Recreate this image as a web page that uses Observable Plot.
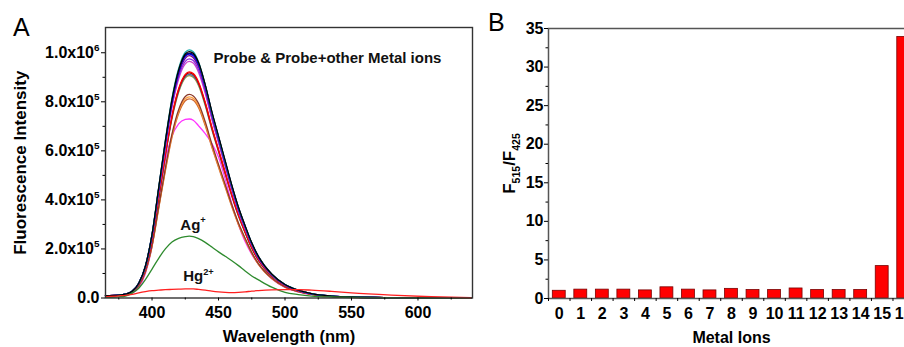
<!DOCTYPE html>
<html><head><meta charset="utf-8">
<script src="https://cdn.jsdelivr.net/npm/d3@7"></script>
<script src="https://cdn.jsdelivr.net/npm/@observablehq/plot@0.6"></script>
<style>
html,body{margin:0;padding:0;background:#fff;}
#wrap{position:relative;width:904px;height:347px;overflow:hidden;background:#fff;font-family:"Liberation Sans",Arial,sans-serif;}
.panel{position:absolute;top:0;}
.tag{position:absolute;font-size:25px;line-height:1;color:#000;font-family:"Liberation Sans",Arial,sans-serif;}
</style></head><body>
<div id="wrap">
  <div class="panel" id="pa" style="left:0;width:480px"></div>
  <div class="panel" id="pb" style="left:480px;width:444px"></div>
  <div class="tag" style="left:13px;top:15px">A</div>
  <div class="tag" style="left:488px;top:10px">B</div>
</div>
<script>
const FONT = '"Liberation Sans", Arial, sans-serif';

// ---- Panel A: fluorescence spectra (intensity in units of 1e5) ----
const wl = [365,375,380,385,390,395,400,405,410,415,420,425,428,431,435,440,445,450,455,460,465,470,475,480,490,500,510,520,535,550,580,610,640];

const sBlack   = [0.10,0.12,0.16,0.27,0.60,1.30,2.60,4.50,6.40,8.10,9.30,9.95,10.05,9.98,9.60,8.70,7.60,6.60,5.60,4.60,3.70,2.95,2.25,1.70,0.98,0.55,0.32,0.18,0.08,0.04,0.015,0.005,0.0];
const sTeal    = [0.10,0.12,0.16,0.27,0.60,1.30,2.60,4.50,6.42,8.15,9.36,10.02,10.12,10.04,9.62,8.68,7.56,6.56,5.56,4.57,3.68,2.93,2.24,1.69,0.97,0.55,0.32,0.18,0.08,0.04,0.015,0.005,0.0];
const sNavy    = [0.10,0.12,0.16,0.27,0.60,1.30,2.58,4.47,6.36,8.05,9.25,9.90,9.98,9.93,9.56,8.68,7.58,6.58,5.58,4.59,3.69,2.94,2.24,1.69,0.97,0.55,0.32,0.18,0.08,0.04,0.015,0.005,0.0];
const sBlue    = [0.10,0.12,0.16,0.27,0.60,1.29,2.57,4.45,6.32,8.00,9.20,9.85,9.95,9.88,9.50,8.62,7.52,6.52,5.52,4.54,3.65,2.91,2.22,1.67,0.96,0.54,0.31,0.17,0.08,0.04,0.015,0.005,0.0];
const sPurple  = [0.10,0.12,0.16,0.27,0.60,1.29,2.56,4.42,6.27,7.95,9.13,9.77,9.88,9.80,9.43,8.55,7.46,6.47,5.48,4.50,3.61,2.88,2.19,1.65,0.95,0.53,0.31,0.17,0.08,0.04,0.015,0.005,0.0];
const sViolet  = [0.10,0.12,0.16,0.27,0.59,1.27,2.52,4.36,6.20,7.85,9.02,9.65,9.75,9.68,9.30,8.43,7.36,6.39,5.42,4.45,3.56,2.84,2.17,1.63,0.94,0.53,0.30,0.17,0.08,0.04,0.015,0.005,0.0];
const sOrchid  = [0.10,0.12,0.16,0.26,0.58,1.25,2.50,4.32,6.13,7.77,8.93,9.55,9.65,9.58,9.20,8.35,7.28,6.32,5.36,4.40,3.53,2.81,2.15,1.62,0.93,0.52,0.30,0.17,0.08,0.04,0.015,0.005,0.0];
const sRed     = [0.10,0.12,0.15,0.25,0.55,1.19,2.38,4.13,5.87,7.43,8.53,9.12,9.22,9.15,8.80,7.98,6.97,6.05,5.13,4.22,3.39,2.70,2.06,1.56,0.90,0.50,0.29,0.16,0.07,0.04,0.015,0.005,0.0];
const sWine    = [0.10,0.12,0.15,0.25,0.55,1.19,2.37,4.11,5.84,7.40,8.49,9.08,9.18,9.11,8.76,7.94,6.94,6.02,5.11,4.20,3.38,2.69,2.05,1.55,0.90,0.50,0.29,0.16,0.07,0.04,0.015,0.005,0.0];
const sSteel   = [0.10,0.12,0.15,0.25,0.55,1.18,2.36,4.09,5.81,7.36,8.44,9.03,9.12,9.05,8.72,7.90,6.90,6.00,5.08,4.18,3.36,2.68,2.04,1.54,0.89,0.50,0.29,0.16,0.07,0.04,0.015,0.005,0.0];
const sOlive   = [0.10,0.12,0.15,0.24,0.54,1.17,2.35,4.06,5.78,7.31,8.39,8.98,9.07,9.00,8.66,7.85,6.86,5.96,5.05,4.15,3.34,2.66,2.03,1.53,0.88,0.50,0.29,0.16,0.07,0.04,0.015,0.005,0.0];
const sBrown   = [0.10,0.11,0.14,0.23,0.50,1.08,2.15,3.72,5.29,6.69,7.68,8.22,8.30,8.24,7.93,7.19,6.28,5.45,4.63,3.80,3.06,2.44,1.86,1.40,0.81,0.45,0.26,0.15,0.07,0.03,0.012,0.004,0.0];
const sOrange  = [0.10,0.11,0.14,0.23,0.50,1.07,2.13,3.68,5.23,6.62,7.60,8.12,8.20,8.14,7.83,7.10,6.20,5.38,4.57,3.76,3.02,2.41,1.84,1.39,0.80,0.45,0.26,0.15,0.07,0.03,0.012,0.004,0.0];
const sDkOrange= [0.10,0.11,0.14,0.22,0.49,1.06,2.11,3.65,5.18,6.55,7.52,8.04,8.12,8.06,7.76,7.03,6.14,5.33,4.52,3.72,2.99,2.38,1.82,1.37,0.79,0.44,0.26,0.15,0.07,0.03,0.012,0.004,0.0];
const sMagenta = [0.08,0.10,0.12,0.19,0.42,1.00,2.10,3.90,5.60,6.60,7.10,7.28,7.30,7.25,7.02,6.70,6.30,5.75,4.85,3.85,3.00,2.30,1.78,1.38,0.78,0.43,0.25,0.14,0.06,0.03,0.01,0.005,0.0];
const sAg      = [0.03,0.05,0.08,0.20,0.40,0.75,1.18,1.62,2.00,2.28,2.43,2.50,2.52,2.50,2.42,2.27,2.08,1.88,1.70,1.52,1.32,1.10,0.90,0.74,0.44,0.23,0.14,0.08,0.04,0.02,0.01,0.0,0.0];
const sHg      = [0.06,0.09,0.11,0.15,0.21,0.26,0.30,0.32,0.34,0.35,0.36,0.37,0.37,0.37,0.35,0.32,0.28,0.25,0.23,0.22,0.23,0.25,0.28,0.30,0.33,0.34,0.34,0.32,0.27,0.21,0.12,0.05,0.01];

const curveColors = ["#ff33ff","#cc6633","#ff9933","#8b3a2a","#999933","#4a6fa5","#a00000","#ff0000","#cc44cc","#8a2be2","#800080","#0000ff","#000080","#20b0b0","#000000","#2e8b2e","#ff2020"];
const curveValues = [sMagenta,sDkOrange,sOrange,sBrown,sOlive,sSteel,sWine,sRed,sOrchid,sViolet,sPurple,sBlue,sNavy,sTeal,sBlack,sAg,sHg];

const yMajorA = [0,2,4,6,8,10];
const yLabelsA = ["0.0","2.0x10^{5}","4.0x10^{5}","6.0x10^{5}","8.0x10^{5}","1.0x10^{6}"];
const yMinorA = [1,3,5,7,9];
const xMajorA = [400,450,500,550,600];
const xMinorA = [375,425,475,525,575,625];

const annText = ["Probe & Probe+other Metal ions","Ag^{+}","Hg^{2+}"];
const annX = [446.2, 421.3, 423.4];
const annY = [9.79, 2.98, 0.87];

// ---- Panel B: F515/F425 ratio per metal ion ----
const ionIds = [0,1,2,3,4,5,6,7,8,9,10,11,12,13,14,15,16];
const ratios = [1.0,1.15,1.15,1.15,1.05,1.45,1.15,1.05,1.25,1.1,1.1,1.3,1.1,1.1,1.1,4.2,33.9];
const yMajorB = [0,5,10,15,20,25,30,35];
const yMinorB = [2.5,7.5,12.5,17.5,22.5,27.5,32.5];
const xMinorB = [-0.5,0.5,1.5,2.5,3.5,4.5,5.5,6.5,7.5,8.5,9.5,10.5,11.5,12.5,13.5,14.5,15.5,16.5];

const baseStyle = {fontFamily: FONT, fontSize: "16px", fontWeight: "bold", color: "#000", background: "transparent", overflow: "visible"};

const plotA = Plot.plot({
  width: 480, height: 347,
  marginLeft: 105, marginRight: 8, marginTop: 27, marginBottom: 49.5,
  style: baseStyle,
  x: {domain: [365, 641]},
  y: {domain: [0, 11.03]},
  marks: [
    ...curveValues.map((vals, k) => Plot.line(wl, {x: w => w, y: (w, i) => vals[i], stroke: curveColors[k], strokeWidth: 1.3, curve: "monotone-x"})),
    Plot.frame({stroke: "#333", strokeWidth: 1.4}),
    Plot.axisY(yMajorA, {tickSize: 4, tickPadding: 2, tickFormat: d => yLabelsA[yMajorA.indexOf(d)], label: "Fluorescence Intensity", labelAnchor: "center", labelOffset: 92, labelArrow: false}),
    Plot.axisY(yMinorA, {tickSize: 2.5, tickFormat: () => "", label: null}),
    Plot.axisX(xMajorA, {tickSize: 3, tickPadding: 6, tickFormat: d => String(d), label: "Wavelength (nm)", labelAnchor: "center", labelOffset: 44, labelArrow: false}),
    Plot.axisX(xMinorA, {tickSize: 2, tickFormat: () => "", label: null}),
    Plot.text(annText, {x: (d, i) => annX[i], y: (d, i) => annY[i], text: d => d, textAnchor: "start", fontSize: 15, fontWeight: "bold", fill: "#111"})
  ]
});

const plotB = Plot.plot({
  width: 444, height: 347,
  marginLeft: 68, marginRight: 10, marginTop: 28, marginBottom: 49,
  style: baseStyle,
  x: {domain: [-0.5, 16.5]},
  y: {domain: [0, 35]},
  marks: [
    Plot.rect(ionIds, {x1: (d) => d - 0.3, x2: (d) => d + 0.3, y1: 0, y2: (d, i) => ratios[i], fill: "#ff0000", stroke: "#7a0000", strokeWidth: 0.8}),
    Plot.frame({stroke: "#555", strokeWidth: 1.5}),
    Plot.axisY(yMajorB, {tickSize: 4, tickPadding: 1, tickFormat: d => String(d), label: "F_{515}/F_{425}", labelAnchor: "center", labelOffset: 46, labelArrow: false}),
    Plot.axisY(yMinorB, {tickSize: 2.5, tickFormat: () => "", label: null}),
    Plot.axisX(ionIds, {tickSize: 0, tickPadding: 9, tickFormat: d => String(d), label: "Metal Ions", labelAnchor: "center", labelOffset: 44, labelArrow: false}),
    Plot.axisX(xMinorB, {tickSize: 3, tickFormat: () => "", label: null})
  ]
});

document.getElementById("pa").appendChild(plotA);
document.getElementById("pb").appendChild(plotB);

const sizeOverride = {"Fluorescence Intensity": 17, "Wavelength (nm)": 16.5, "Metal Ions": 16, "F_{515}/F_{425}": 17};

function richText(svg) {
  svg.querySelectorAll("text").forEach(t => {
    const s = t.textContent;
    if (sizeOverride[s]) t.setAttribute("font-size", sizeOverride[s]);
    if (!/[\^_]\{/.test(s)) return;
    const fs = parseFloat(getComputedStyle(t).fontSize) || 16;
    const parts = [];
    const re = /([\^_])\{([^}]*)\}/g;
    let last = 0, m;
    while ((m = re.exec(s))) {
      if (m.index > last) parts.push({k: "n", s: s.slice(last, m.index)});
      parts.push({k: m[1], s: m[2]});
      last = re.lastIndex;
    }
    if (last < s.length) parts.push({k: "n", s: s.slice(last)});
    while (t.firstChild) t.removeChild(t.firstChild);
    let shift = 0;
    for (const p of parts) {
      const ts = document.createElementNS("http://www.w3.org/2000/svg", "tspan");
      const target = p.k === "^" ? -0.42 * fs : p.k === "_" ? 0.3 * fs : 0;
      const d = target - shift;
      if (d) ts.setAttribute("dy", d.toFixed(2));
      shift = target;
      if (p.k !== "n") ts.setAttribute("font-size", (0.62 * fs).toFixed(1));
      ts.textContent = p.s;
      t.appendChild(ts);
    }
  });
}
richText(plotA);
richText(plotB);
</script>
</body></html>
